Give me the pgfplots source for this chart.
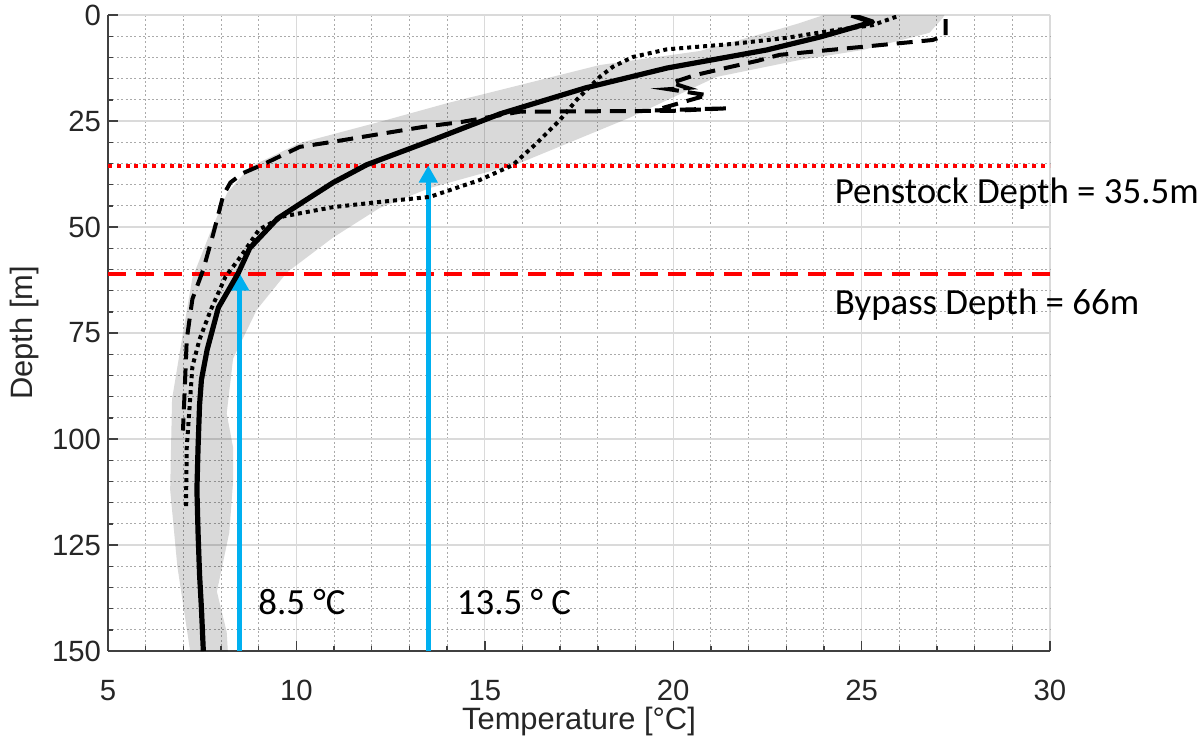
\documentclass[border=0pt]{standalone}
\usepackage{fontspec}
\setmainfont{Liberation Sans}
\newfontfamily\calibri{Carlito}
\usepackage{pgfplots}
\pgfplotsset{compat=1.18}
\usetikzlibrary{arrows.meta}

\definecolor{arrowblue}{HTML}{00B0F0}
\definecolor{axisgray}{HTML}{404040}
\definecolor{majgrid}{RGB}{218,218,218}
\definecolor{mingrid}{RGB}{170,170,170}

\begin{document}
\begin{tikzpicture}
\begin{axis}[
  scale only axis,
  width=471bp, height=318bp,
  xmin=5, xmax=30, ymin=0, ymax=150,
  y dir=reverse,
  xtick={5,10,...,30}, ytick={0,25,...,150},
  minor x tick num=4, minor y tick num=4,
  grid=both,
  major grid style={majgrid, line width=0.6bp},
  minor grid style={mingrid, line width=0.5bp, dash pattern=on 1bp off 1.2bp},
  axis x line*=bottom, axis y line*=left,
  axis line style={axisgray, line width=0.7bp, -},
  tick align=inside,
  major tick length=5bp, minor tick length=2.5bp,
  tick style={axisgray, line width=0.7bp},
  ticklabel style={font=\fontsize{14.7}{17}\selectfont, text=black!85},
  xticklabel style={yshift=-11bp},
  /pgf/number format/assume math mode=true,
  xlabel={Temperature [°C]}, ylabel={Depth [m]},
  label style={font=\fontsize{15.5}{18}\selectfont, text=black!85},
  xlabel style={yshift=3.5bp},
  clip mode=individual,
]
% spread of profiles
\addplot[draw=none, fill=black, fill opacity=0.15] coordinates {
  (24.0,0) (23.36,1.9) (22.9,3.1) (20.7,8.5) (18.05,11.8) (15.4,17.7) (14.0,20.8)
  (12.21,25.2) (10.09,30.2) (8.77,35.8) (8.16,42) (7.71,51.4) (7.24,62)
  (6.99,75) (6.7,90.6) (6.65,112) (6.84,130) (7.18,150)
  (8.18,150) (8.15,145.5) (7.89,136) (8.22,122) (8.32,110) (8.32,102)
  (8.15,94) (8.32,81) (8.95,69.5) (9.75,60.7) (10.97,52.5) (12.21,45.5)
  (13.54,40.8) (15.93,34.9) (18.85,24.2) (21.15,14.6) (23.36,10.6)
  (25.03,8.25) (26.8,4.2) (27.15,0.7) (27.2,0)
};
% intake depths
\addplot[red, line width=2bp, dash pattern=on 2bp off 2.4bp] coordinates {(5,35.5) (30,35.5)};
\addplot[red, line width=2bp, dash pattern=on 9bp off 5bp] coordinates {(5,61) (30,61)};
% arrows
\addplot[arrowblue, line width=2.5bp, -{Triangle[width=9bp,length=8.5bp]}] coordinates {(8.5,150) (8.5,61)};
\addplot[arrowblue, line width=2.5bp, -{Triangle[width=9bp,length=8.5bp]}] coordinates {(13.5,150) (13.5,35.5)};
% dotted profile
\addplot[black, line width=2bp, dash pattern=on 2bp off 2bp] coordinates {
  (25.92,0.4) (25.29,2.4) (24.27,3.6) (23.0,5.4) (21.6,6.8) (19.83,8.1)
  (18.93,9.9) (18.4,12.2) (18.05,14.6) (17.44,20) (16.99,24.8) (16.38,30.2)
  (15.74,35.4) (14.87,38.9) (13.54,42.9) (12.2,44.1) (10.98,45.3) (9.65,47.5)
  (9.01,50.6) (8.52,57) (8.12,61.7) (7.73,69.5) (7.43,76.5) (7.24,82.9)
  (7.18,90.6) (7.09,102) (7.07,116)
};
% dashed profile
\addplot[black, line width=2bp, dash pattern=on 8bp off 4.5bp] coordinates {
  (27.23,1.0) (27.23,4.8) (26.88,5.9) (22.82,9.4) (22.24,10.8) (21.39,12.5)
  (20.57,14.2) (19.96,16.0) (20.38,17.2) (19.88,17.5) (20.9,18.9) (19.5,22.5)
  (21.45,22.0) (20.0,22.6) (15.93,22.8) (14.4,25.2) (13.36,26.4) (12.4,27.8)
  (10.97,29.9) (10.09,31.1) (9.1,35.3) (8.58,37.3) (8.25,39.5) (8.06,42.5)
  (7.8,51.4) (7.53,60) (7.24,67) (7.09,76.5) (7.04,87.5) (6.99,98)
};
% mean profile
\addplot[black, line width=2.6bp, line join=round] coordinates {
  (7.53,150) (7.48,140) (7.43,132) (7.39,122) (7.36,112) (7.39,102) (7.43,92)
  (7.48,86) (7.63,79) (7.93,69) (8.45,61) (8.76,55) (9.5,48) (10.19,44)
  (10.98,39.5) (11.87,35.3) (13.64,29.4) (15.41,23.3) (17.67,17.2)
  (19.84,12.5) (22.48,8.25) (23.89,5.2) (25.29,1.65) (24.73,0)
};
\node[anchor=base west, inner sep=0, font=\calibri\fontsize{18.5}{22}\selectfont] at (axis cs:24.28,44.4) {Penstock Depth = 35.5m};
\node[anchor=base west, inner sep=0, font=\calibri\fontsize{18.5}{22}\selectfont] at (axis cs:24.28,70.75) {Bypass Depth = 66m};
\node[anchor=base west, inner sep=0, font=\calibri\fontsize{18.5}{22}\selectfont] at (axis cs:8.98,141.5) {8.5 °C};
\node[anchor=base west, inner sep=0, font=\calibri\fontsize{18.5}{22}\selectfont] at (axis cs:14.25,141.5) {13.5 ° C};
\coordinate (bl) at (axis cs:5,150);
\coordinate (tr) at (axis cs:30,0);
\end{axis}
\pgfresetboundingbox
\path[use as bounding box] ([xshift=-54bp,yshift=-42.5bp]bl) rectangle ([xshift=77bp,yshift=7.5bp]tr);
\end{tikzpicture}
\end{document}
